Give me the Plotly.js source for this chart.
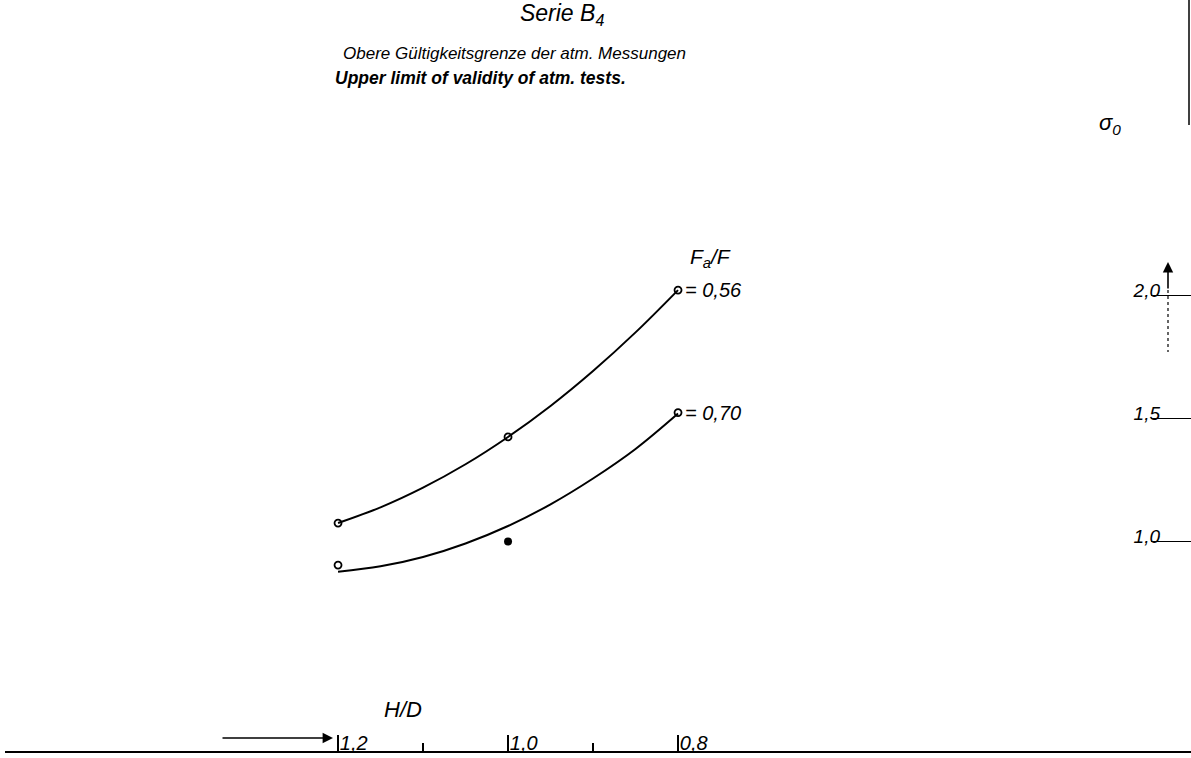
<!DOCTYPE html>
<html>
<head>
<meta charset="utf-8">
<script src="https://cdn.plot.ly/plotly-3.0.1.min.js"></script>
<style>html,body{margin:0;padding:0;background:#fff;}#chart{width:1191px;height:758px;}</style>
</head>
<body>
<div id="chart"></div>
<script>
// H/D values (x axis, reversed)
const hdCurve = [1.2, 1.15, 1.1, 1.05, 1.0, 0.95, 0.9, 0.85, 0.8];
// faired curves (sigma_0)
const curve056 = [1.075, 1.139, 1.219, 1.314, 1.425, 1.551, 1.693, 1.850, 2.022];
const curve070 = [0.877, 0.899, 0.937, 0.992, 1.063, 1.151, 1.256, 1.376, 1.520];
// measured points
const hdPoints = [1.2, 1.0, 0.8];
const pts056 = [1.075, 1.425, 2.022];
const pts070 = [0.904, 1.524];
const hdPts070 = [1.2, 0.8];
const hdFilled = [1.0];
const ptsFilled = [1.0];
// tick labels
const xTicks = [1.2, 1.0, 0.8];
const xTickText = ['1,2', '1,0', '0,8'];
const xMinor = [1.1, 0.9];
const yTicks = [1.0, 1.5, 2.0];
const yTickText = ['1,0', '1,5', '2,0'];

const FONT = 'Liberation Sans, Arial, sans-serif';
const ital = (size, weight) => ({family: FONT, size: size, color: '#000', style: 'italic', weight: weight || 400});

const traces = [
  {x: hdCurve, y: curve056, mode: 'lines', line: {color: '#000', width: 2, shape: 'spline'}, hoverinfo: 'skip'},
  {x: hdCurve, y: curve070, mode: 'lines', line: {color: '#000', width: 2, shape: 'spline'}, hoverinfo: 'skip'},
  {x: hdPoints, y: pts056, mode: 'markers', marker: {symbol: 'circle-open', size: 7, color: '#000', line: {width: 1.8, color: '#000'}}},
  {x: hdPts070, y: pts070, mode: 'markers', marker: {symbol: 'circle-open', size: 7, color: '#000', line: {width: 1.8, color: '#000'}}},
  {x: hdFilled, y: ptsFilled, mode: 'markers', marker: {symbol: 'circle', size: 8, color: '#000'}}
];

const px = x => (x - 5) / 1186;
const py = y => (751 - y) / 751;

const layout = {
  width: 1191, height: 758,
  margin: {l: 5, r: 0, t: 0, b: 7},
  paper_bgcolor: '#fff', plot_bgcolor: '#fff',
  showlegend: false,
  title: {text: 'Serie B<sub>4</sub>', x: 0.472, xref: 'container', y: 0.983, yref: 'container', xanchor: 'center', yanchor: 'middle', font: ital(23)},
  xaxis: {
    range: [1.5918, 0.1965], showgrid: false, zeroline: false,
    showline: true, linecolor: '#000', linewidth: 2,
    tickvals: xTicks, ticktext: xTickText, ticks: 'inside', ticklen: 16, tickwidth: 1.5, tickcolor: '#000',
    ticklabelposition: 'inside right', ticklabelstandoff: -5, tickfont: ital(20),
    minor: {tickvals: xMinor, ticks: 'inside', ticklen: 8, tickwidth: 1.5, tickcolor: '#000'},
    fixedrange: true
  },
  yaxis: {
    range: [0.1484, 3.2012], side: 'right', showgrid: false, zeroline: false, showline: false,
    tickvals: yTicks, ticktext: yTickText, ticks: 'inside', ticklen: 40, tickwidth: 1.5, tickcolor: '#000',
    ticklabelposition: 'inside top', ticklabelstandoff: 28, ticklabelshift: 9, tickfont: ital(19),
    fixedrange: true
  },
  annotations: [
    {text: 'Obere Gültigkeitsgrenze der atm. Messungen', xref: 'paper', yref: 'paper', x: px(514), y: py(42), showarrow: false, font: ital(17)},
    {text: 'Upper limit of validity of atm. tests.', xref: 'paper', yref: 'paper', x: px(480), y: py(66), showarrow: false, font: ital(17.5, 700)},
    {text: 'F<sub>a</sub>/F', x: 0.8, y: 2.022, xanchor: 'left', xshift: 10, yshift: 32, showarrow: false, font: ital(21)},
    {text: '= 0,56', x: 0.8, y: 2.022, xanchor: 'left', xshift: 5, showarrow: false, font: ital(20)},
    {text: '= 0,70', x: 0.8, y: 1.524, xanchor: 'left', xshift: 5, showarrow: false, font: ital(20)},
    {text: 'H/D', xref: 'paper', yref: 'paper', x: px(382), y: py(724), showarrow: false, font: ital(22)},
    {text: 'σ<sub>0</sub>', xref: 'paper', yref: 'paper', x: px(1123), y: py(108), showarrow: false, font: ital(22)},
    {text: '', xref: 'paper', yref: 'paper', x: px(333), y: py(738), ax: -112, ay: 0, showarrow: true, arrowhead: 2, arrowsize: 1.3, arrowwidth: 1.6, arrowcolor: '#000'},
    {text: '', xref: 'paper', yref: 'paper', x: px(1168), y: py(262), ax: 0, ay: 28, showarrow: true, arrowhead: 2, arrowsize: 1.3, arrowwidth: 1.6, arrowcolor: '#000'}
  ],
  shapes: [
    {type: 'line', xref: 'paper', yref: 'paper', x0: px(1168), x1: px(1168), y0: py(290), y1: py(352), line: {color: '#000', width: 1.2, dash: 'dot'}},
    {type: 'line', xref: 'paper', yref: 'paper', x0: px(1189), x1: px(1189), y0: 1, y1: py(125), line: {color: '#000', width: 1.5}}
  ]
};

Plotly.newPlot('chart', traces, layout, {displayModeBar: false, staticPlot: true});
</script>
</body>
</html>
